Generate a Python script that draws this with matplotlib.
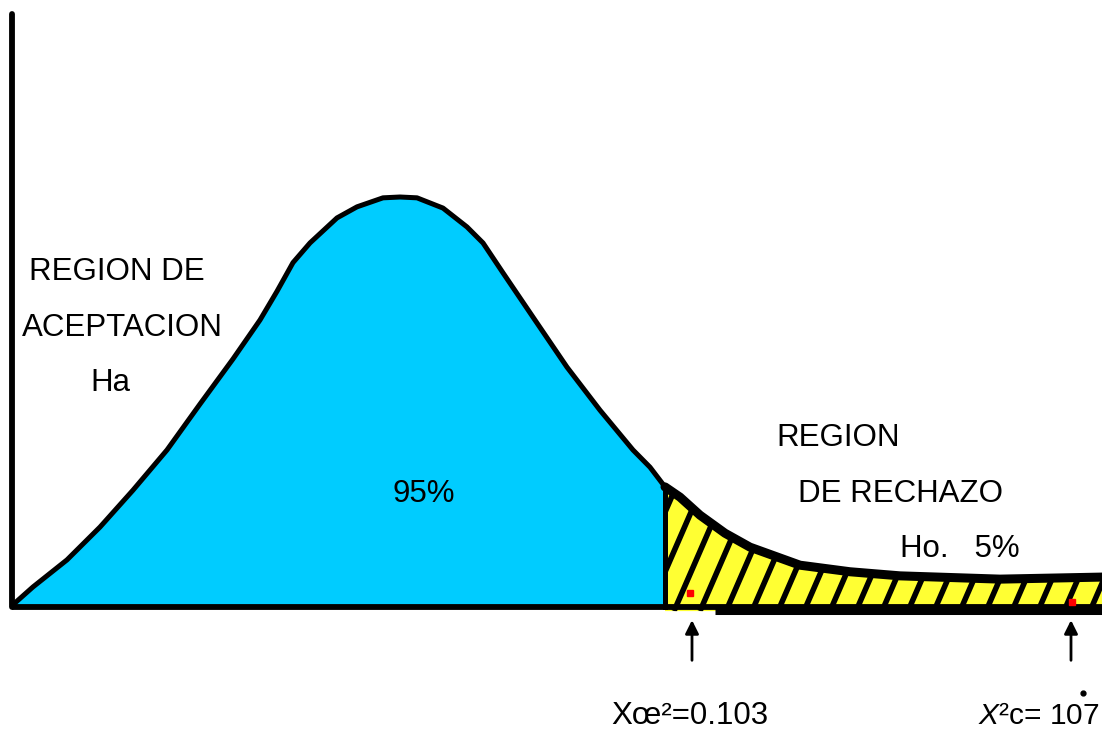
import numpy as np
import matplotlib.pyplot as plt
from matplotlib.patches import Polygon

plt.rcParams["mathtext.fontset"] = "custom"
plt.rcParams["mathtext.it"] = "Liberation Sans:italic"
plt.rcParams["mathtext.rm"] = "Liberation Sans"

# curva dibujada a mano
curva_x = [0.3, 2.1, 5.5, 8.8, 12.1, 15.5, 18.8, 22.1, 24.8, 26.5, 28.1,
           29.8, 32.5, 34.5, 37.1, 38.8, 40.5, 43.1, 45.5, 47.1, 49.1, 52.1,
           55.5, 58.8, 62.1, 63.8, 65.3, 66.8, 68.8, 71.3, 73.8, 78.8, 83.8,
           88.8, 98.8, 109.0]
curva_y = [1.0, 4.9, 11.5, 19.5, 28.5, 38.3, 49.5, 60.5, 70.0, 77.0, 84.0,
           88.8, 94.9, 97.6, 99.8, 100.0, 99.8, 97.3, 92.7, 88.8, 81.5, 70.7,
           58.5, 48.0, 38.3, 34.1, 29.3, 26.8, 22.4, 18.0, 14.6, 10.2, 8.6,
           7.6, 6.8, 7.3]
x_critico = 65.3
y_critico = 29.3
x_calculado = 105.9

textos_aceptacion = ["REGION DE", "ACEPTACION", "Ha"]
textos_rechazo = ["REGION", "DE RECHAZO", "Ho.   5%"]
etiqueta_critico = "Xœ²=0.103"
etiqueta_calculado = r"$\mathit{X}$²c= 107"

AZUL = "#00ccff"
AMARILLO = "#ffff33"
FUENTE = "Liberation Sans"

fig = plt.figure(figsize=(11.02, 7.31), dpi=100)
ax = fig.add_axes([0, 0, 1, 1])
ax.set_xlim(-1.2, 109.0)
ax.set_ylim(-30.24, 148.05)
ax.axis("off")

cx = np.array(curva_x)
cy = np.array(curva_y)

# region de aceptacion (azul)
izq = cx <= x_critico
ax.fill_between(cx[izq], 0, cy[izq], color=AZUL, lw=0, zorder=1)

# region de rechazo (amarillo con rayas)
der = cx >= x_critico
vert = list(zip(cx[der], cy[der])) + [(cx[der][-1], -1.0), (x_critico, -1.0)]
zona = Polygon(vert, closed=True, facecolor=AMARILLO, edgecolor="none", zorder=1)
ax.add_patch(zona)

# rayas diagonales recortadas a la zona
dx = 30 * 4.1 / (10 * 2.3)
for x0 in np.arange(x_critico - 4.3, 112, 2.6):
    ln, = ax.plot([x0, x0 + dx], [-1, 29], color="black", lw=4, zorder=2,
                  solid_capstyle="butt")
    ln.set_clip_path(zona)

# curva y ejes
ax.plot(cx[izq], cy[izq], color="black", lw=3.6, zorder=3,
        solid_joinstyle="round", solid_capstyle="round")
ax.plot(cx[der], cy[der], color="black", lw=6.5, zorder=3,
        solid_joinstyle="round", solid_capstyle="round")
ax.plot([x_critico, x_critico], [0, y_critico], color="black", lw=3.6, zorder=3)
ax.plot([0, 109.0], [0, 0], color="black", lw=4.2, zorder=3, solid_capstyle="butt")
ax.plot([x_critico + 5, 109.0], [-0.7, -0.7], color="black", lw=6.5, zorder=3,
        solid_capstyle="butt")
ax.plot([0, 0], [0, 144.6], color="black", lw=4.2, zorder=3, solid_capstyle="round")

# marcas rojas
ax.plot([67.8, 106.0], [3.4, 1.2], "s", color="red", ms=5, zorder=4)

# flechas
for xa in [68.0, x_calculado]:
    ax.annotate("", xy=(xa, -3.2), xytext=(xa, -13.0),
                arrowprops=dict(arrowstyle="-|>", color="black", lw=2,
                                mutation_scale=20, shrinkA=0, shrinkB=0))

fs = 22.5
for t, x, y in zip(textos_aceptacion, [10.5, 11.0, 9.8], [81.7, 68.0, 54.6]):
    ax.text(x, y, t, ha="center", va="center", fontsize=fs, family=FUENTE)
for t, x, y in zip(textos_rechazo, [82.6, 88.8, 94.8], [41.2, 27.6, 14.1]):
    ax.text(x, y, t, ha="center", va="center", fontsize=fs, family=FUENTE)
ax.text(41.2, 27.6, "95%", ha="center", va="center", fontsize=fs, family=FUENTE)

ax.text(67.8, -26.6, etiqueta_critico, ha="center", va="center", fontsize=fs,
        family=FUENTE)
ax.text(96.6, -26.6, etiqueta_calculado, ha="left", va="center",
        fontsize=21.5, family=FUENTE)
ax.plot([107.1], [-21.0], "o", color="black", ms=3.5)

fig.savefig("out.png", dpi=100)
